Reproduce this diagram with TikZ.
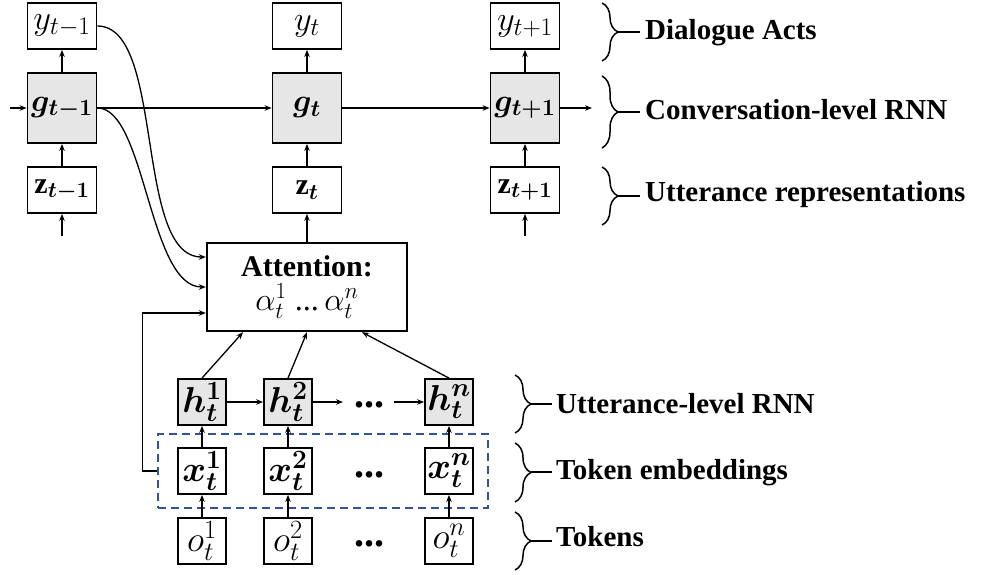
\RequirePackage{fix-cm}
\documentclass[tikz,border=0pt]{standalone}
\usepackage{amsmath}
\usepackage{bm}
\usepackage{graphicx}
\usepackage{fontspec}
\setmainfont{Liberation Serif}
\DeclareMathSizes{30}{30}{22}{16}
\DeclareMathSizes{28}{28}{20}{15}
\usetikzlibrary{arrows.meta,decorations.pathreplacing,calc}
\definecolor{dashblue}{HTML}{2F5597}
\definecolor{boxgray}{HTML}{E6E6E6}
\newcommand{\sm}[2]{\scalebox{#1}{$#2$}}
\begin{document}
\begin{tikzpicture}[x=1pt,y=-1pt,
  mfont/.style={font=\fontsize{30}{32}\selectfont},
  bigbox/.style={draw, line width=1.8pt, minimum width=69pt, minimum height=46pt, inner sep=0pt, mfont},
  gbox/.style={bigbox, fill=boxgray, minimum height=70pt},
  smallbox/.style={draw, line width=1.8pt, minimum width=48pt, minimum height=46pt, inner sep=0pt, mfont},
  hbox/.style={smallbox, fill=boxgray},
  arr/.style={-{Stealth[length=7pt,width=5.5pt]}, line width=1.3pt},
  lbl/.style={font=\bfseries\fontsize{29}{32}\selectfont, anchor=base west, inner sep=0pt},
  brace/.style={decorate, decoration={brace, amplitude=16pt}, line width=1.5pt},
  dotsnode/.style={font=\bfseries\fontsize{40}{40}\selectfont, inner sep=0pt, anchor=base}
]
\useasboundingbox (0,0) rectangle (986,575);

% top row nodes
\node[bigbox] (ym1) at (62,26) {\sm{1.15}{y_{t-1}}};
\node[gbox] (gm1) at (62,108) {\sm{1.06}{\bm{g_{t-1}}}};
\node[bigbox] (zm1) at (62,190) {\sm{1.0}{\mathbf{z}_{\bm{t-1}}}};
\node[bigbox] (y0) at (307,26) {\sm{1.15}{y_{t}}};
\node[gbox] (g0) at (307,108) {\sm{1.06}{\bm{g_{t}}}};
\node[bigbox] (z0) at (307,190) {\sm{1.0}{\mathbf{z}_{\bm{t}}}};
\node[bigbox] (yp1) at (525,26) {\sm{1.15}{y_{t+1}}};
\node[gbox] (gp1) at (525,108) {\sm{1.06}{\bm{g_{t+1}}}};
\node[bigbox] (zp1) at (525,190) {\sm{1.0}{\mathbf{z}_{\bm{t+1}}}};

\coordinate (inL) at (10,108);
\coordinate (outR) at (592,108);
\coordinate (zin1) at (62,236);
\coordinate (zin3) at (525,236);

% attention
\node[draw, line width=2.4pt, minimum width=200pt, minimum height=88pt, inner sep=0pt, align=center] (att) at (307,287)
  {{\bfseries\fontsize{30}{32}\selectfont Attention:}\\[6pt]{\fontsize{28}{30}\selectfont \sm{1.15}{\alpha_t^1\ \textrm{...}\,\alpha_t^n}}};

% lower nodes
\node[hbox] (h1) at (202,402) {\sm{1.2}{\bm{h_t^1}}};
\node[hbox] (h2) at (288,402) {\sm{1.2}{\bm{h_t^2}}};
\node[hbox] (hn) at (449,402) {\sm{1.2}{\bm{h_t^n}}};
\node[dotsnode] (hd) at (369,407) {...};
\node[smallbox] (x1) at (202,471) {\sm{1.2}{\bm{x_t^1}}};
\node[smallbox] (x2) at (288,471) {\sm{1.2}{\bm{x_t^2}}};
\node[smallbox] (xn) at (449,471) {\sm{1.2}{\bm{x_t^n}}};
\node[dotsnode] (xd) at (369,477) {...};
\node[smallbox] (o1) at (202,541) {\sm{1.2}{o_t^1}};
\node[smallbox] (o2) at (288,541) {\sm{1.2}{o_t^2}};
\node[smallbox] (on) at (449,541) {\sm{1.2}{o_t^n}};
\node[dotsnode] (od) at (369,546) {...};

\node[draw=dashblue, dashed, dash pattern=on 8pt off 5pt, line width=1.5pt, minimum width=330pt, minimum height=74pt, inner sep=0pt] (emb) at (323,471) {};

% top connectors
\draw[arr] (inL) -- (gm1.west);
\draw[arr] (gm1.east) -- (g0.west);
\draw[arr] (g0.east) -- (gp1.west);
\draw[arr] (gp1.east) -- (outR);
\draw[arr] (gm1.north) -- (ym1.south);
\draw[arr] (g0.north) -- (y0.south);
\draw[arr] (gp1.north) -- (yp1.south);
\draw[arr] (zm1.north) -- (gm1.south);
\draw[arr] (z0.north) -- (g0.south);
\draw[arr] (zp1.north) -- (gp1.south);
\draw[arr] (zin1) -- (zm1.south);
\draw[arr] (zin3) -- (zp1.south);
\draw[arr] (att.north) -- (z0.south);

% curves into attention
\coordinate (attA) at ($(att.west)+(0,-30)$);
\coordinate (attB) at (att.west);
\coordinate (attC) at ($(att.west)+(0,26)$);
\draw[arr] (ym1.east) .. controls ++(68,0) and ($(attA)+(-72,0)$) .. (attA);
\draw[arr] (gm1.east) .. controls ++(48,0) and ($(attB)+(-57,0)$) .. (attB);
\draw[arr] (emb.west) -- ++(-15,0) |- (attC);

% h to attention
\coordinate (ah1) at ($(att.south)+(-64,0)$);
\coordinate (ah2) at ($(att.south)+(0,0)$);
\coordinate (ahn) at ($(att.south)+(55,0)$);
\draw[arr] (h1.north) -- (ah1);
\draw[arr] (h2.north) -- (ah2);
\draw[arr] (hn.north) -- (ahn);

% h chain
\coordinate (hc1) at (343,402);
\coordinate (hc2) at (394,402);
\draw[arr] (h1.east) -- (h2.west);
\draw[arr] (h2.east) -- (hc1);
\draw[arr] (hc2) -- (hn.west);

% vertical arrows
\draw[arr] (x1.north) -- (h1.south);
\draw[arr] (x2.north) -- (h2.south);
\draw[arr] (xn.north) -- (hn.south);
\draw[arr] (o1.north) -- (x1.south);
\draw[arr] (o2.north) -- (x2.south);
\draw[arr] (on.north) -- (xn.south);

% braces and labels
\draw[brace] (602,3) -- (602,61);
\draw[line width=1.5pt] (618,32) -- (640,32);
\node[lbl] (l1) at (645,40) {Dialogue Acts};
\draw[brace] (602,76) -- (602,148);
\draw[line width=1.5pt] (618,112) -- (640,112);
\node[lbl] (l2) at (645,120) {Conversation-level RNN};
\draw[brace] (602,167) -- (602,225);
\draw[line width=1.5pt] (618,196) -- (640,196);
\node[lbl] (l3) at (645,202) {Utterance representations};
\draw[brace] (515,375) -- (515,433);
\draw[line width=1.5pt] (531,404) -- (552,404);
\node[lbl] (l4) at (556,413) {Utterance-level RNN};
\draw[brace] (515,443) -- (515,502);
\draw[line width=1.5pt] (531,472) -- (552,472);
\node[lbl] (l5) at (556,479) {Token embeddings};
\draw[brace] (515,512) -- (515,570);
\draw[line width=1.5pt] (531,541) -- (552,541);
\node[lbl] (l6) at (556,546) {Tokens};
\end{tikzpicture}
\end{document}
